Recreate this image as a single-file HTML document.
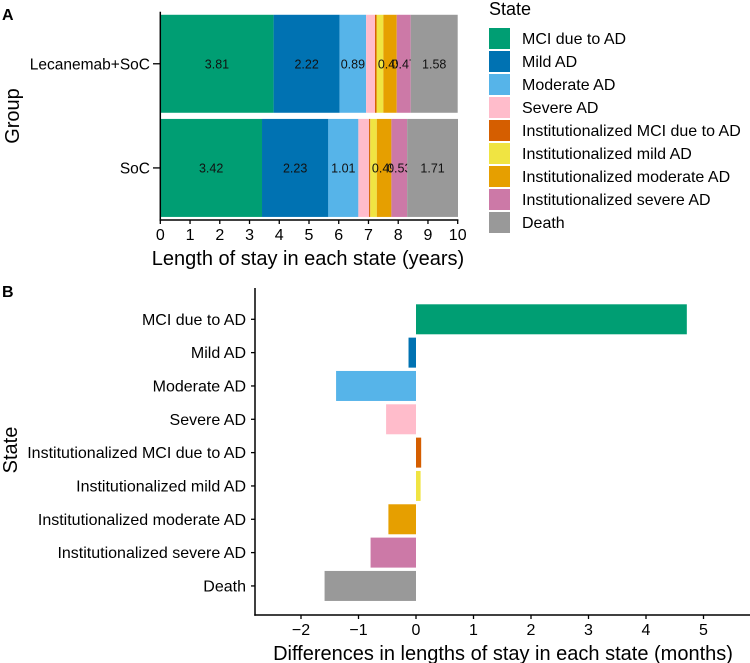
<!DOCTYPE html>
<html><head><meta charset="utf-8"><style>
body{margin:0;background:#fff;}
svg{display:block;font-family:"Liberation Sans",Arial,sans-serif;}
</style></head><body>
<svg id="chart" width="750" height="663" xmlns="http://www.w3.org/2000/svg">
<text x="2" y="20" font-size="16" font-weight="bold">A</text>
<text x="2" y="297" font-size="16" font-weight="bold">B</text>
<g id="pa"></g>
<g id="pb"></g>
<g id="lg"></g>
</svg>
<script>
const states = ["MCI due to AD","Mild AD","Moderate AD","Severe AD","Institutionalized MCI due to AD","Institutionalized mild AD","Institutionalized moderate AD","Institutionalized severe AD","Death"];
const colors = ["#009E73","#0072B2","#56B4E9","#FFBCCB","#D55E00","#F0E442","#E69F00","#CC79A7","#999999"];
const groups = ["Lecanemab+SoC","SoC"];
const lecValues = [3.81,2.22,0.89,0.30,0.05,0.23,0.45,0.47,1.58];
const socValues = [3.42,2.23,1.01,0.36,0.04,0.22,0.49,0.53,1.71];
const labelShown = [true,true,true,false,false,false,true,true,true];
const aTicks = [0,1,2,3,4,5,6,7,8,9,10];
const diffValues = [4.71,-0.13,-1.39,-0.52,0.09,0.08,-0.48,-0.79,-1.59];
const bTicks = [-2,-1,0,1,2,3,4,5];

const NS="http://www.w3.org/2000/svg";
function mk(parent,tag,attrs,text){const e=document.createElementNS(NS,tag);for(const k in attrs)e.setAttribute(k,attrs[k]);if(text!==undefined)e.textContent=text;parent.appendChild(e);return e;}

// Panel A
const pa=document.getElementById('pa');
const ax0=160.3, ax1=457.7, ay0=11.7, ay1=220;
const xA=v=>ax0+(ax1-ax0)*v/10;
const bandH=(ay1-ay0)/2;
const yA=i=>ay0+bandH*i+bandH/2;
const barH=98;
[lecValues,socValues].forEach((vals,gi)=>{
  let cum=0;
  vals.forEach((v,si)=>{
    const r=mk(pa,'rect',{x:xA(cum),y:yA(gi)-barH/2,width:xA(cum+v)-xA(cum),height:barH,fill:colors[si]});
    
    
    if(labelShown[si]){
      const t=mk(pa,'text',{x:xA(cum+v/2),y:yA(gi)+4.5,'font-size':12.5,'text-anchor':'middle',fill:'#111'},v.toFixed(2));
      
      
    }
    cum+=v;
  });
  const tl=mk(pa,'text',{x:150,y:yA(gi)+5.5,'font-size':15.5,'text-anchor':'end'},groups[gi]);
  
  
  mk(pa,'line',{x1:153,x2:ax0,y1:yA(gi),y2:yA(gi),stroke:'#000','stroke-width':1.3});
});
mk(pa,'line',{x1:ax0,x2:ax0,y1:ay0,y2:ay1+1,stroke:'#000','stroke-width':1.5});
mk(pa,'line',{x1:ax0-0.7,x2:ax1+0.7,y1:ay1,y2:ay1,stroke:'#000','stroke-width':1.5});
aTicks.forEach(t=>{
  mk(pa,'line',{x1:xA(t),x2:xA(t),y1:ay1,y2:ay1+4,stroke:'#000','stroke-width':1.3});
  const l=mk(pa,'text',{x:xA(t),y:ay1+20,'font-size':16,'text-anchor':'middle'},t);
  
  
});
const xta=mk(pa,'text',{x:308,y:265,'font-size':20,'text-anchor':'middle'},'Length of stay in each state (years)');


const yta=mk(pa,'text',{x:0,y:0,'font-size':20,'text-anchor':'middle',transform:'translate(19,116) rotate(-90)'},'Group');



// Legend
const lg=document.getElementById('lg');
const lt=mk(lg,'text',{x:489,y:15,'font-size':18},'State');


states.forEach((s,i)=>{
  const y=28+23*i;
  const r=mk(lg,'rect',{x:489,y:y,width:21,height:21,fill:colors[i]});
  
  
  const t=mk(lg,'text',{x:522,y:y+16,'font-size':16},s);
  
  
});

// Panel B
const pb=document.getElementById('pb');
const bx0=255, by0=288, by1=615;
const xB=v=>416+57.5*v;
const yB=i=>319.3+33.33*i;
diffValues.forEach((v,i)=>{
  const x1=Math.min(xB(0),xB(v)), w=Math.abs(xB(v)-xB(0));
  const r=mk(pb,'rect',{x:x1,y:yB(i)-15,width:w,height:30,fill:colors[i]});
  
  
  mk(pb,'line',{x1:bx0-4,x2:bx0,y1:yB(i),y2:yB(i),stroke:'#000','stroke-width':1.3});
  const t=mk(pb,'text',{x:246,y:yB(i)+5.5,'font-size':16,'text-anchor':'end'},states[i]);
  
  
});
mk(pb,'line',{x1:bx0,x2:bx0,y1:by0,y2:by1+0.7,stroke:'#000','stroke-width':1.5});
mk(pb,'line',{x1:bx0-0.7,x2:750,y1:by1,y2:by1,stroke:'#000','stroke-width':1.5});
bTicks.forEach(t=>{
  mk(pb,'line',{x1:xB(t),x2:xB(t),y1:by1,y2:by1+4,stroke:'#000','stroke-width':1.3});
  const l=mk(pb,'text',{x:xB(t),y:by1+20,'font-size':16,'text-anchor':'middle'},t<0?'\u2212'+Math.abs(t):t);
  
  
});
const xtb=mk(pb,'text',{x:503,y:660,'font-size':20,'text-anchor':'middle'},'Differences in lengths of stay in each state (months)');


const ytb=mk(pb,'text',{x:0,y:0,'font-size':20,'text-anchor':'middle',transform:'translate(17,450) rotate(-90)'},'State');


</script>
</body></html>
